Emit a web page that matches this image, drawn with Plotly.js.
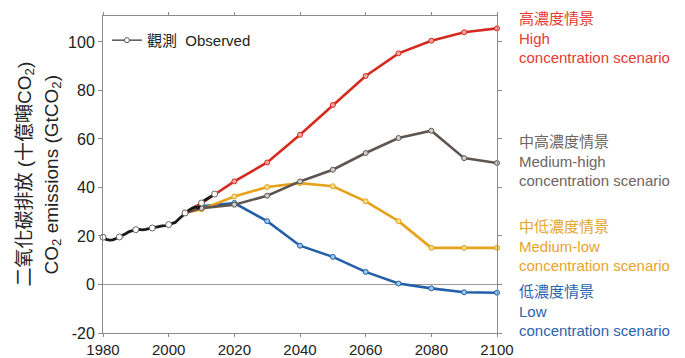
<!DOCTYPE html>
<html>
<head>
<meta charset="utf-8">
<script src="https://cdn.plot.ly/plotly-3.0.1.min.js"></script>
<style>html,body{margin:0;padding:0;background:#fff;}#chart{width:685px;height:358px;}</style>
</head>
<body>
<div id="chart"></div>
<script>
// Observed annual emissions (GtCO2)
const obsYears = [1980,1981,1982,1983,1984,1985,1986,1987,1988,1989,1990,1991,1992,1993,1994,1995,1996,1997,1998,1999,2000,2001,2002,2003,2004,2005,2006,2007,2008,2009,2010,2011,2012,2013,2014];
const obsValues = [19.5,18.6,18.3,18.4,19.0,19.6,20.3,21.0,21.8,22.3,22.6,22.7,22.5,22.7,23.0,23.3,23.9,24.2,24.2,24.3,24.7,25.2,25.6,26.9,28.2,29.5,30.5,31.3,32.0,31.6,33.6,34.8,35.5,36.4,37.3];
const obsMarkerYears = [1980,1985,1990,1995,2000,2005,2010,2014];

// Scenario projections
const scenYears = [2005,2010,2020,2030,2040,2050,2060,2070,2080,2090,2100];
const highValues    = [29.5,33.5,42.5,50.3,61.7,74.0,86.0,95.3,100.5,104.0,105.6];
const medHighValues = [29.5,31.5,32.9,36.6,42.5,47.3,54.2,60.4,63.4,52.1,50.1];
const medLowValues  = [29.5,31.0,36.3,40.2,41.8,40.5,34.3,26.1,15.1,15.1,15.1];
const lowValues     = [29.5,32.2,33.6,26.1,16.0,11.4,5.2,0.4,-1.6,-3.2,-3.4];

const xTicks = [1980,2000,2020,2040,2060,2080,2100];
const yTicks = [-20,0,20,40,60,80,100];

const FONT = 'Liberation Sans, Arial, "Noto Sans CJK TC", sans-serif';

function scen(y, line, fill) {
  return {
    x: scenYears, y: y, mode: 'lines+markers', showlegend: false, cliponaxis: false,
    line: {color: line, width: 2.6},
    marker: {size: 5, color: fill, line: {color: line, width: 1}}
  };
}

const obsMarkerValues = obsMarkerYears.map(yr => obsValues[obsYears.indexOf(yr)]);

const data = [
  scen(lowValues, '#235ea8', '#9cc8ee'),
  scen(medLowValues, '#e6a21c', '#f7dc8a'),
  scen(medHighValues, '#5e5550', '#d0d0d0'),
  scen(highValues, '#d42a1f', '#f4a7a0'),
  {x: obsYears, y: obsValues, mode: 'lines', showlegend: false, cliponaxis: false,
   line: {color: '#1a1a1a', width: 2.8}},
  {x: obsMarkerYears, y: obsMarkerValues, mode: 'markers', showlegend: false, cliponaxis: false,
   marker: {size: 6, color: '#ffffff', line: {color: '#666', width: 1}}},
  {x: [null], y: [null], mode: 'lines+markers', name: '觀測  Observed',
   line: {color: '#555', width: 1.5},
   marker: {size: 5, color: '#ffffff', line: {color: '#555', width: 1}}}
];

const ann = [];
function label(text, y, color) {
  ann.push({xref: 'paper', yref: 'paper', x: 1.05, y: y, xanchor: 'left', yanchor: 'middle',
    text: text, showarrow: false, align: 'left',
    font: {family: FONT, size: 15, color: color}});
}
// y pixel -> paper: plot top 16, bottom 333
function py(p) { return (333 - p) / (333 - 16); }
label('高濃度情景<br>High<br>concentration scenario', py(38), '#e53b31');
label('中高濃度情景<br>Medium-high<br>concentration scenario', py(161), '#6d6560');
label('中低濃度情景<br>Medium-low<br>concentration scenario', py(246), '#e6a52a');
label('低濃度情景<br>Low<br>concentration scenario', py(311), '#2a63ae');

ann.push({xref: 'paper', yref: 'paper', x: -103/394 + 25/394, y: 0.5, xanchor: 'center', yanchor: 'middle',
  text: '二氧化碳排放 (十億噸CO<sub>2</sub>)', textangle: -90, showarrow: false,
  font: {family: FONT, size: 19, color: '#222'}});
ann.push({xref: 'paper', yref: 'paper', x: -103/394 + 52/394, y: 0.5, xanchor: 'center', yanchor: 'middle',
  text: 'CO<sub>2</sub> emissions (GtCO<sub>2</sub>)', textangle: -90, showarrow: false,
  font: {family: FONT, size: 19, color: '#222'}});

const layout = {
  width: 685, height: 358,
  margin: {l: 103, r: 188, t: 16, b: 25, pad: 0},
  paper_bgcolor: '#fff', plot_bgcolor: '#fff',
  font: {family: FONT, size: 16, color: '#222'},
  showlegend: true,
  legend: {x: 0.01, y: 0.975, xanchor: 'left', yanchor: 'top', bgcolor: 'rgba(0,0,0,0)',
    font: {family: FONT, size: 15, color: '#222'}},
  xaxis: {range: [1980, 2100], tickvals: xTicks, ticktext: xTicks.map(String),
    showgrid: false, zeroline: false, showline: true, linecolor: '#8a8a8a', linewidth: 1,
    mirror: 'ticks', ticks: 'outside', ticklen: 3, tickcolor: '#8a8a8a',
    tickfont: {family: FONT, size: 15, color: '#222'}},
  yaxis: {range: [-20, 110.7], tickvals: yTicks, ticktext: yTicks.map(String),
    showgrid: false, zeroline: true, zerolinecolor: '#9a9a9a', zerolinewidth: 1.5,
    showline: true, linecolor: '#8a8a8a', linewidth: 1,
    mirror: 'ticks', ticks: 'outside', ticklen: 4, tickcolor: '#8a8a8a',
    tickfont: {family: FONT, size: 16, color: '#222'}},
  annotations: ann
};

Plotly.newPlot('chart', data, layout, {displayModeBar: false, staticPlot: true});
</script>
</body>
</html>
